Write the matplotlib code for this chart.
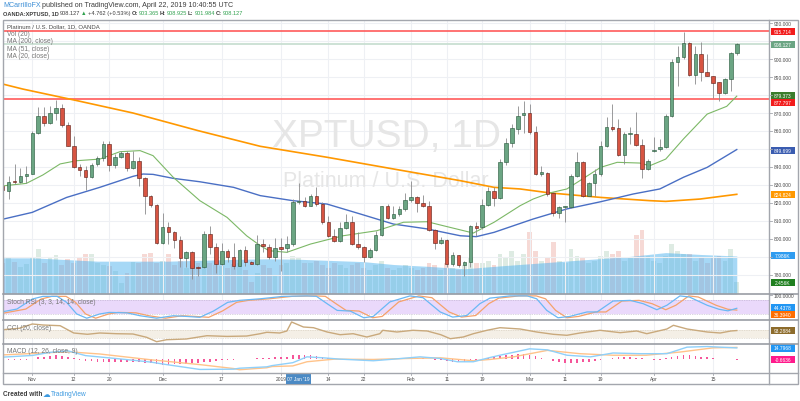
import matplotlib
matplotlib.use("Agg")
import matplotlib.pyplot as plt
from matplotlib.patches import Rectangle
import numpy as np
import pandas as pd

plt.rcParams['font.family'] = ['Liberation Sans', 'DejaVu Sans']

# ---------------- data ----------------
dates = pd.bdate_range('2018-10-25', '2019-04-22')
dates = dates[~dates.isin(pd.to_datetime(['2018-12-25', '2019-01-01', '2019-04-19']))]

opens = [829.5, 826.8, 832.4, 831.8, 835.2, 836.1, 858.9, 868.5, 864.3, 870.0,
         872.8, 863.3, 851.8, 839.8, 838.3, 834.3, 841.5, 844.8, 852.8, 841.1,
         845.4, 847.8, 839.3, 843.5, 833.7, 823.7, 818.9, 797.8, 806.8, 804.1,
         799.6, 789.3, 792.6, 784.6, 784.3, 802.8, 795.4, 786.1, 793.5, 789.8,
         785.2, 793.9, 787.4, 786.1, 797.2, 795.4, 789.8, 795.4, 794.8, 797.2,
         820.7, 821.3, 818.5, 824.1, 819.4, 809.3, 801.5, 799.1, 805.9, 809.6,
         797.2, 795.7, 789.8, 793.9, 802.4, 818.1, 811.5, 813.9, 816.7, 821.7,
         823.1, 820.0, 818.1, 805.2, 797.8, 799.6, 786.1, 791.1, 785.5, 787.4,
         807.0, 806.5, 818.9, 826.8, 822.6, 842.6, 853.3, 861.1, 868.9, 869.8,
         859.2, 836.1, 836.7, 825.6, 814.3, 817.6, 817.6, 834.8, 842.6, 824.1,
         830.9, 835.9, 851.9, 862.0, 861.5, 846.7, 858.3, 858.3, 852.2, 838.9,
         848.9, 850.0, 851.0, 868.1, 898.5, 900.9, 908.9, 891.1, 902.8, 892.6,
         890.7, 887.0, 881.1, 888.9, 903.365]
highs = [831.0, 834.8, 841.7, 839.5, 840.7, 860.2, 873.1, 873.1, 874.0, 877.4,
         875.0, 864.8, 857.4, 841.7, 840.7, 842.2, 846.3, 854.6, 854.6, 847.2,
         849.1, 849.1, 849.1, 845.4, 834.3, 824.4, 819.4, 814.4, 809.3, 804.6,
         801.8, 793.5, 793.5, 785.2, 804.6, 807.4, 797.8, 797.8, 794.4, 797.8,
         794.4, 796.3, 788.0, 802.2, 800.0, 797.2, 800.4, 800.4, 801.8, 822.2,
         831.1, 823.1, 825.0, 828.7, 820.4, 813.0, 805.6, 809.3, 813.9, 813.0,
         803.7, 796.3, 794.8, 804.6, 818.5, 819.4, 818.1, 818.5, 825.5, 832.4,
         824.1, 824.4, 821.3, 805.6, 800.9, 800.0, 792.6, 791.1, 788.0, 807.8,
         809.3, 822.2, 828.7, 828.7, 844.4, 856.0, 864.0, 873.7, 876.9, 875.0,
         863.0, 840.7, 837.0, 826.0, 818.1, 818.5, 836.1, 848.1, 843.5, 831.5,
         838.9, 854.6, 867.6, 875.0, 866.7, 859.2, 862.0, 870.4, 855.6, 844.4,
         856.5, 855.6, 869.4, 900.0, 907.0, 914.8, 909.6, 907.4, 909.6, 902.8,
         890.7, 887.0, 889.3, 903.7, 908.925]
lows = [825.0, 822.2, 830.5, 831.1, 831.1, 836.0, 858.3, 863.0, 863.9, 866.3,
        862.0, 851.5, 839.3, 834.8, 827.2, 833.7, 840.4, 843.5, 838.0, 839.3,
        844.8, 838.0, 838.9, 829.6, 813.9, 817.6, 797.2, 797.2, 797.2, 794.8,
        784.3, 784.3, 777.8, 779.6, 783.7, 791.7, 781.1, 785.5, 787.0, 783.3,
        784.8, 785.2, 786.0, 785.5, 792.6, 788.9, 788.0, 782.4, 792.6, 796.3,
        819.4, 817.6, 818.1, 818.5, 808.3, 800.9, 798.1, 798.1, 805.6, 796.7,
        794.4, 787.0, 789.3, 793.5, 801.8, 811.1, 811.1, 813.0, 815.7, 820.4,
        814.8, 817.6, 804.6, 794.4, 797.2, 784.3, 785.2, 784.3, 779.6, 784.3,
        801.8, 805.6, 818.5, 818.5, 822.2, 841.0, 851.0, 858.3, 859.0, 858.3,
        835.6, 835.2, 824.1, 813.0, 811.5, 809.3, 817.0, 834.3, 823.1, 823.7,
        823.7, 835.2, 851.3, 860.2, 846.3, 841.7, 852.8, 851.9, 833.7, 838.5,
        848.1, 849.1, 850.4, 867.6, 885.2, 900.0, 890.4, 886.1, 888.0, 890.4,
        878.1, 876.9, 880.6, 882.4, 901.984]
closes = [827.0, 831.8, 831.8, 835.2, 836.3, 858.9, 868.5, 864.3, 870.0, 872.8,
          863.3, 851.8, 839.8, 838.3, 834.3, 841.1, 844.8, 852.8, 841.1, 845.4,
          847.8, 839.3, 843.5, 833.7, 823.7, 818.9, 797.8, 806.8, 803.7, 799.6,
          789.3, 792.6, 783.7, 783.9, 802.8, 795.4, 786.1, 793.5, 789.8, 785.2,
          793.9, 787.0, 786.3, 797.2, 795.9, 789.8, 794.8, 794.4, 797.2, 820.7,
          821.3, 818.5, 824.1, 819.4, 809.3, 801.5, 799.1, 805.9, 809.6, 797.2,
          795.7, 789.8, 793.9, 802.4, 818.1, 811.5, 813.9, 816.7, 821.7, 823.1,
          820.0, 818.1, 805.2, 797.8, 799.6, 786.1, 791.1, 785.5, 787.4, 807.0,
          805.9, 818.9, 826.8, 822.6, 842.6, 853.3, 861.5, 868.5, 869.8, 859.2,
          836.1, 837.0, 825.0, 814.3, 817.6, 818.1, 834.8, 842.6, 824.1, 830.9,
          835.9, 851.9, 862.0, 861.1, 846.7, 858.3, 858.7, 852.2, 838.9, 843.5,
          849.6, 851.0, 868.1, 898.5, 900.9, 908.9, 891.1, 902.8, 892.6, 890.7,
          886.7, 881.1, 888.9, 903.1, 908.127]

volume_k = [6.5, 7.5, 6.8, 5.6, 6.2, 7.8, 9.4, 6.5, 7.6, 8.2,
            6.0, 7.3, 6.5, 7.6, 8.4, 8.4, 6.5, 6.0, 5.8, 4.8,
            2.4, 4.5, 6.8, 6.5, 8.4, 8.6, 6.6, 7.0, 8.5, 6.0,
            7.0, 5.5, 6.0, 6.5, 7.0, 6.5, 6.0, 5.8, 5.5, 6.2,
            6.5, 5.0, 2.5, 4.5, 6.0, 5.5, 4.0, 6.0, 6.5, 8.0,
            7.5, 6.5, 6.5, 7.0, 6.0, 5.5, 6.5, 6.0, 5.5, 6.0,
            6.5, 5.5, 5.0, 6.0, 7.0, 5.5, 5.0, 5.5, 6.0, 5.5,
            5.0, 5.5, 6.5, 6.0, 5.0, 6.5, 5.5, 5.0, 6.0, 7.5,
            6.5, 6.5, 7.0, 6.0, 8.5, 7.5, 9.0, 7.0, 8.5, 13.0,
            9.0, 7.0, 7.5, 11.0, 7.0, 6.5, 9.5, 8.0, 7.5, 6.5,
            7.0, 8.0, 9.0, 8.5, 9.0, 7.0, 7.5, 12.5, 13.5, 8.0,
            7.0, 6.5, 8.0, 10.5, 9.0, 8.5, 8.5, 7.0, 7.5, 6.5,
            7.5, 8.0, 7.0, 9.5, 2.456]
volma_bar = [0, 5, 16, 28, 40, 45, 50, 61, 66, 72, 78, 84, 95, 106, 112, 118, 124]
volma_val = [7.6, 7.6, 6.9, 6.9, 7.3, 7.4, 7.3, 6.8, 6.2, 5.8, 5.3, 5.9, 6.9, 7.9, 8.7, 8.3, 7.986]

ma200_bar = [-0.5, 3.4, 12.5, 22, 33, 43.5, 54.8, 66, 77.3, 83, 87.4, 92.4, 101, 109.3, 112, 117.8, 124]
ma200_val = [886.5, 883.3, 876.9, 870.0, 860.2, 851.5, 845.4, 838.9, 832.4, 828.7, 827.8, 825.6, 823.1, 821.3, 820.9, 822.2, 824.824]
ma51_bar = [-0.5, 5, 10.8, 16.4, 22, 23.7, 25.4, 28.8, 33.3, 39, 43.5, 49, 54.8, 60.4, 66, 71.7, 77.3, 80,
            83, 89.6, 95.3, 101, 106.5, 111, 115, 119, 124]
ma51_val = [810.6, 814.8, 823.1, 828.7, 834.8, 836.1, 835.9, 833.7, 831.8, 828.7, 824.1, 821.3, 819.4, 813.9,
            808.3, 805.6, 801.8, 801.3, 803.7, 811.1, 816.7, 820.7, 825.0, 827.8, 834.3, 839.8, 849.699]
ma20_bar = [0.3, 4, 6.8, 9.7, 12.5, 16.4, 19.8, 23.2, 25.4, 28.8, 33.3, 37.9, 41.2, 43.5, 45, 48, 52, 57.5,
            63.2, 67.7, 71.7, 74.4, 79.5, 83, 87.4, 89.6, 92.4, 95.3, 101, 103.8, 107.6, 109.3, 112, 115,
            119, 122.3, 124]
ma20_val = [829.6, 830.9, 835.6, 841.7, 843.5, 844.4, 848.5, 849.1, 846.3, 834.3, 821.3, 812.0, 801.8, 796.3,
            793.5, 792.6, 797.2, 801.8, 804.6, 809.3, 809.6, 807.4, 803.3, 809.3, 818.5, 822.2, 825.6, 827.8,
            839.8, 842.6, 842.2, 840.7, 844.4, 855.6, 869.4, 873.7, 879.373]

stoch_k_bar = [0, 2.4, 5, 6.8, 9.2, 10.8, 12.5, 14.2, 16.4, 18, 21, 23.2, 26, 28.8, 31, 33.3, 35.6, 38, 40,
               43.5, 47.4, 51.4, 53, 54.8, 56.5, 58.7, 61, 62.6, 65.4, 68.8, 71, 73.9, 76, 78.4, 80.6, 82.3,
               85.7, 88.6, 90.2, 91.9, 93.8, 95.8, 98.7, 100.4, 103.1, 106, 108.2, 110.5, 112.2, 114.4, 116,
               119, 121, 122.5, 124]
stoch_k_val = [29, 41, 86, 98, 98, 71, 19, 0, 19, 26, 24, 11, 0, 11, 8, 4, 32, 71, 80,
               87, 98, 100, 98, 65, 35, 32, 2, 8, 73, 100, 92, 28, 5, 12, 65, 90,
               100, 100, 87, 35, 2, 8, 28, 28, 77, 80, 65, 38, 58, 100, 95,
               58, 40, 33, 44.4378]
stoch_d_bar = [0, 3.9, 6.5, 8.3, 10.7, 12.3, 14, 15.7, 17.9, 19.5, 22.5, 24.7, 27.5, 30.3, 32.5, 34.8, 37.1,
               39.5, 41.5, 45, 48.9, 52.9, 54.5, 56.3, 58, 60.2, 62.5, 64.1, 66.9, 70.3, 72.5, 75.4, 77.5,
               79.9, 82.1, 83.8, 87.2, 90.1, 91.7, 93.4, 95.3, 97.3, 100.2, 101.9, 104.6, 107.5, 109.7,
               112, 113.7, 115.9, 117.5, 120.5, 122.5, 124]
stoch_d_val = [22, 41, 86, 98, 98, 71, 19, 0, 19, 26, 24, 11, 0, 11, 8, 4, 32, 71, 80,
               87, 98, 100, 98, 65, 35, 32, 2, 8, 73, 100, 92, 28, 5, 12, 65, 90,
               100, 100, 87, 35, 2, 8, 28, 28, 77, 80, 65, 38, 58, 100, 95,
               58, 40, 36.394]

cci_bar = [0, 2.8, 5, 6.8, 9.7, 12, 14.3, 16.4, 19.2, 22, 24.3, 26, 27.7, 31, 34.5, 37.9, 41.2, 43.5, 44.6,
           46.8, 48, 48.8, 50.8, 52.5, 54.8, 57, 59.2, 61.5, 63.7, 64.2, 66.6, 69.3, 71.7, 74, 75.6, 77.8,
           79.5, 81.8, 84, 87.4, 90.2, 93, 95.3, 97.5, 100.9, 104.3, 107.1, 108.8, 112.2, 113.3, 115.6,
           119, 121.2, 123, 124]
cci_val = [116, 154, 270, 243, 224, 27, -8, 27, 8, 0, -89, -208, -154, -135, -46, -65, -55, 8, 46,
           27, 81, 324, 189, 170, 54, -19, 8, -81, 8, 100, 54, 100, 81, -19, -127, -81,
           8, 100, 170, 135, 54, -8, -35, 27, 100, 36, 81, 8, 135, 235, 135,
           54, 27, 81, 93.2884]

macd_bar = [0, 5, 8, 11, 14, 19.7, 25, 27.7, 33.3, 39, 40, 44.6, 45.5, 49, 51.4, 54.2, 57, 62.6, 65.4,
            70.5, 74, 76.8, 79.5, 80.6, 82.3, 84, 89, 92, 95.3, 99.3, 103.1, 107.6, 112.2, 115.6, 119, 124]
macd_val = [2.8, 5, 9, 11, 4.8, 0.6, -3.6, -6.9, -13.2, -12.8, -11.6, -9.8, -8.2, -4.4, 3.2, 1.9, 0.2, -1.9,
            -0.2, 3.2, 1, -3.2, -3.2, -1, 2.3, 5.3, 13.6, 12.3, 5.3, 3.2, 8.2, 7.3, 7.3, 15.8, 16.6, 14.7968]
signal_bar = [0, 11, 16.4, 25, 33.3, 39, 40, 44.6, 45.5, 49, 51.4, 56, 62.6, 68, 74, 79.5, 82.3, 86.3,
              92, 97.5, 103.1, 108.7, 114.4, 120, 124]
signal_val = [5.7, 9.8, 6.9, -0.6, -6.9, -12, -13.6, -11, -9.4, -8.6, -3.2, 0.2, -0.2, 1, 1.9, -1.9, -0.2,
              3.2, 11.6, 7.3, 5.3, 5.3, 9.4, 14.9, 15.46]
hist_val = [-0.5, -0.8, -0.8, -0.6, -0.3,
            1.0, 2.5, 3.5, 4.5, 5.0, 4.5, 3.5, 1.5,
            -1.0, -2.0, -2.5, -3.0, -3.0, -3.5, -3.5, -3.5, -3.5, -4.0, -4.0, -4.5, -5.0,
            -6.5, -7.0, -7.0, -6.5, -6.0, -5.5, -5.0,
            -4.5, -3.5, -3.0, -2.0, -1.0,
            -0.5, -0.5, 0.5, 0.8, 1.0, 1.5,
            2.0, 2.0, 2.5, 2.5,
            3.5, 5.0, 5.5, 5.5, 5.0, 4.5, 3.5,
            2.0, 1.0, 0.5, 0.3, 0.0,
            -1.0, -1.5, -2.0, -1.5, -0.5,
            0.5, 1.0, 1.5, 2.0, 2.0, 2.0, 1.5, 1.0,
            -0.5, -1.5, -2.5, -3.0, -3.5, -3.5, -2.5, -1.0,
            0.5, 1.5, 3.0, 4.0, 5.0, 6.0, 6.5, 6.5, 6.0,
            4.0, 2.0, 0.0,
            -2.5, -4.0, -5.0, -5.0, -4.5, -4.0, -3.0, -2.0, -1.0,
            1.0, 2.0, 2.5, 2.5, 2.5, 2.0, 1.5,
            0.5, -0.5, -0.5,
            1.5, 3.5, 4.5, 5.0, 5.0, 4.5, 3.5, 2.5,
            1.5, 0.8, 0.3, 0.0, -0.6636]

resist_levels = [915.714, 877.797]
last_price = 908.127

tick_dates = ['2018-11-01', '2018-11-12', '2018-11-20', '2018-12-03', '2018-12-17', '2019-01-02',
              '2019-01-14', '2019-01-22', '2019-02-01', '2019-02-11', '2019-02-19', '2019-03-01',
              '2019-03-11', '2019-03-19', '2019-04-01', '2019-04-15']
tick_labels = ['Nov', '12', '20', 'Dec', '17', '2019', '14', '22', 'Feb', '11', '19', 'Mar',
               '11', '19', 'Apr', '15']
price_ticks = [920, 910, 900, 890, 880, 870, 860, 850, 840, 830, 820, 810, 800, 790, 780]
price_ticks_shown = [920, 900, 890, 870, 860, 840, 830, 820, 810, 800, 780]

# ---------------- layout ----------------
W, H = 800, 402
fig = plt.figure(figsize=(W / 100, H / 100), dpi=100)
fig.patch.set_facecolor('white')


def add_ax(x0, y0, x1, y1):
    return fig.add_axes([x0 / W, 1 - y1 / H, (x1 - x0) / W, (y1 - y0) / H])


XL, XR = 3.5, 769
X0, DX = 2.7, 5.92
xlim = ((XL - X0) / DX, (XR - X0) / DX)

main = add_ax(XL, 21, XR, 295)
stoch = add_ax(XL, 295, XR, 321)
cci = add_ax(XL, 321, XR, 345)
macd = add_ax(XL, 345, XR, 374)

n = len(dates)
xi = np.arange(n)
tick_idx = [int(dates.get_loc(pd.Timestamp(d))) for d in tick_dates]

GRID = '#eef0f4'
for a in (main, stoch, cci, macd):
    a.set_xlim(*xlim)
    for s in a.spines.values():
        s.set_visible(False)
    a.set_xticks([])
    a.set_yticks([])
    a.patch.set_alpha(0)
    for t in tick_idx:
        a.axvline(t, color=GRID, lw=0.8, zorder=0)

# ---- main price pane ----
py_top = 920 + (24 - 21) / 1.8
py_bot = 920 - (295 - 24) / 1.8
main.set_ylim(py_bot, py_top)
for p in price_ticks:
    main.axhline(p, color=GRID, lw=0.8, zorder=0)

# volume (behind)
vol = main.twinx()
vol.set_ylim(0, 274 / 4.76)
vol.set_xlim(*xlim)
for s in vol.spines.values():
    s.set_visible(False)
vol.set_yticks([])
vol.set_xticks([])
main.set_zorder(vol.get_zorder() + 1)
main.patch.set_visible(False)
vcols = ['#6ba583' if c >= o else '#d75442' for o, c in zip(opens, closes)]
vol.bar(xi, volume_k, width=0.82, color=vcols, alpha=0.22, linewidth=0, zorder=1)
vol.fill_between(volma_bar, 0, volma_val, color='#4fb3ef', alpha=0.5, linewidth=0, zorder=2)

# watermark
main.text(0.5, 0.575, 'XPTUSD, 1D', transform=main.transAxes, ha='center', va='center',
          fontsize=28, color='#e6e6e6', zorder=0.5)
main.text(0.5, 0.413, 'Platinum / U.S. Dollar', transform=main.transAxes, ha='center',
          va='center', fontsize=15.5, color='#e6e6e6', zorder=0.5)

# horizontal lines
for lv in resist_levels:
    main.axhline(lv, color='#ff5a5a', lw=1.4, alpha=0.85, zorder=2)
main.axhline(last_price, color='#c9dfd2', lw=1.3, zorder=1.5)

# moving averages
main.plot(ma200_bar, ma200_val, color='#ff9800', lw=1.2, zorder=3)
main.plot(ma51_bar, ma51_val, color='#4a6fc4', lw=1.0, zorder=3)
main.plot(ma20_bar, ma20_val, color='#7cb866', lw=0.8, zorder=3)

# candles
up_body, dn_body = '#6ba583', '#d75442'
up_edge, dn_edge = '#225437', '#5b1a13'
main.vlines(xi, lows, highs, color='#8a8a8c', lw=0.6, zorder=4)
for i in range(n):
    o, c = opens[i], closes[i]
    bot = min(o, c)
    h = max(abs(c - o), 0.45)
    up = c >= o
    main.add_patch(Rectangle((i - 0.3, bot), 0.6, h, facecolor=up_body if up else dn_body,
                             edgecolor=up_edge if up else dn_edge, lw=0.4, zorder=5))

# ---- Stoch RSI ----
stoch.set_ylim((319.2 - 321) / 22.3 * 100, (319.2 - 295) / 22.3 * 100)
stoch.axhspan(20, 80, color='#ead9fb', zorder=0.5, lw=0)
stoch.axhline(80, color='#b5a9c4', lw=0.5, ls=(0, (1, 1.5)), zorder=1)
stoch.axhline(20, color='#b5a9c4', lw=0.5, ls=(0, (1, 1.5)), zorder=1)
stoch.plot(stoch_d_bar, stoch_d_val, color='#f5a26b', lw=0.9, zorder=3)
stoch.plot(stoch_k_bar, stoch_k_val, color='#6ab8f5', lw=0.9, zorder=3)

# ---- CCI ----
cci.set_ylim(-(345 - 335) * 27, (335 - 321) * 27)
cci.axhspan(-100, 100, color='#f4efe6', zorder=0.5, lw=0)
cci.axhline(100, color='#cfc6b6', lw=0.5, ls=(0, (1, 1.5)), zorder=1)
cci.axhline(-100, color='#cfc6b6', lw=0.5, ls=(0, (1, 1.5)), zorder=1)
cci.plot(cci_bar, cci_val, color='#c9a97c', lw=1.0, zorder=3)

# ---- MACD ----
macd.set_ylim(-(374 - 360.3) * 1.3, (360.3 - 345) * 1.3)
macd.bar(xi, hist_val, width=0.28, color='#f5569a', linewidth=0, zorder=2)
macd.plot(signal_bar, signal_val, color='#ffc38a', lw=1.0, zorder=3)
macd.plot(macd_bar, macd_val, color='#8fd0fa', lw=1.0, zorder=3)

# ---------------- overlay (frame, axis labels, texts) ----------------
ov = fig.add_axes([0, 0, 1, 1], zorder=50)
ov.set_xlim(0, W)
ov.set_ylim(H, 0)
ov.axis('off')
ov.patch.set_alpha(0)

FR = '#a3a6ad'
ov.add_patch(Rectangle((3, 21), 795, 364, fill=False, edgecolor=FR, lw=1.0))
ov.plot([XR, XR], [21, 385], color=FR, lw=1.0)
for yy in (295, 321, 345):
    ov.plot([3, 798], [yy, yy], color='#9a9da4', lw=1.2)
ov.plot([3, 798], [374, 374], color=FR, lw=1.0)

AX_FS = 3.5
AX_COL = '#4a4a4a'
for p in price_ticks:
    yy = 24 + (920 - p) * 1.8
    ov.plot([XR, XR + 2.5], [yy, yy], color=FR, lw=0.6)
    if p in price_ticks_shown:
        ov.text(774, yy, f'{p:.3f}', fontsize=AX_FS, color=AX_COL, va='center', ha='left')
ov.plot([XR, XR + 2.5], [295.5, 295.5], color=FR, lw=0.6)
ov.text(774, 297.0, '100.0000', fontsize=AX_FS, color=AX_COL, va='center', ha='left')

for t, lab in zip(tick_idx, tick_labels):
    xx = X0 + DX * t
    ov.plot([xx, xx], [374, 376], color=FR, lw=0.6)
    ov.text(xx, 380, lab, fontsize=AX_FS, color=AX_COL, va='center', ha='center')

# crosshair date label
cx = X0 + DX * int(dates.get_loc(pd.Timestamp('2019-01-07')))
ov.add_patch(Rectangle((cx - 12.5, 374.5), 25, 10, facecolor='#4b8ac4', edgecolor='none'))
ov.text(cx, 379.5, "07 Jan '19", fontsize=AX_FS, color='white', va='center', ha='center')

# right-side value labels
labels = [(32.3, '915.714', '#f21c1c'), (45.2, '908.127', '#6ba583'), (96.8, '879.373', '#3b7d2c'),
          (103.6, '877.797', '#f21c1c'), (151.7, '849.699', '#3a5cb0'), (195.7, '824.824', '#ff9800'),
          (256.7, '7.986K', '#2f9cf0'), (283.3, '2.456K', '#1f7f1f'), (308.3, '44.4378', '#2196f3'),
          (315.7, '36.3940', '#ff6d00'), (331.7, '93.2884', '#8d6c2c'), (349.0, '14.7968', '#2196f3'),
          (360.7, '-0.6636', '#ff1a8c')]
for yy, s, col in labels:
    ov.add_patch(Rectangle((770.5, yy - 3.6), 24.5, 7.2, facecolor=col, edgecolor='none'))
    ov.text(782.7, yy, s, fontsize=AX_FS, color='white', va='center', ha='center')

r = fig.canvas.get_renderer()


def seq_text(x, y, parts, fs, gap=1.0):
    for s, col, wt in parts:
        t = ov.text(x, y, s, fontsize=fs, color=col, fontweight=wt, va='center', ha='left')
        x += t.get_window_extent(renderer=r).width + gap
    return x


DARK = '#3c3c3c'
GREEN = '#30a14e'
seq_text(3, 5.2, [('MCarrilloFX', '#3d8fd6', 'normal'),
                  ('published on TradingView.com, April 22, 2019 10:40:55 UTC', DARK, 'normal')], 5.1, 1.3)
seq_text(3, 13.6, [('OANDA:XPTUSD, 1D', DARK, 'bold'), ('908.127', DARK, 'normal'),
                   ('\u25b2', GREEN, 'normal'), ('+4.762 (+0.53%)', DARK, 'normal'),
                   ('O:', DARK, 'bold'), ('903.365', GREEN, 'normal'), ('H:', DARK, 'bold'),
                   ('908.925', GREEN, 'normal'), ('L:', DARK, 'bold'), ('901.984', GREEN, 'normal'),
                   ('C:', DARK, 'bold'), ('908.127', GREEN, 'normal')], 4.1, 1.0)

ov.text(7, 26.5, 'Platinum / U.S. Dollar, 1D, OANDA', fontsize=4.3, color='#4a4a4a',
        va='center', ha='left')
for yy, s in [(34.2, 'Vol (20)'), (41.7, 'MA (200, close)'), (49.2, 'MA (51, close)'),
              (56.7, 'MA (20, close)')]:
    ov.text(7, yy, s, fontsize=4.8, color='#777777', va='center', ha='left')
ov.text(7, 302.3, 'Stoch RSI (3, 3, 14, 14, close)', fontsize=4.8, color='#777777', va='center', ha='left')
ov.text(7, 329.0, 'CCI (20, close)', fontsize=4.8, color='#777777', va='center', ha='left')
ov.text(7, 351.8, 'MACD (12, 26, close, 9)', fontsize=4.8, color='#777777', va='center', ha='left')

x_end = seq_text(3, 394.5, [('Created with', '#3c3c3c', 'bold')], 4.7, 1.0)
ov.text(x_end - 0.5, 394.3, '\u2601', fontsize=5.5, color='#3d9ae0', va='center', ha='left',
        family='DejaVu Sans')
ov.text(x_end + 7.5, 394.5, 'TradingView', fontsize=4.7, color='#3d9ae0', va='center', ha='left')

fig.savefig('out.png', dpi=100, facecolor='white')
